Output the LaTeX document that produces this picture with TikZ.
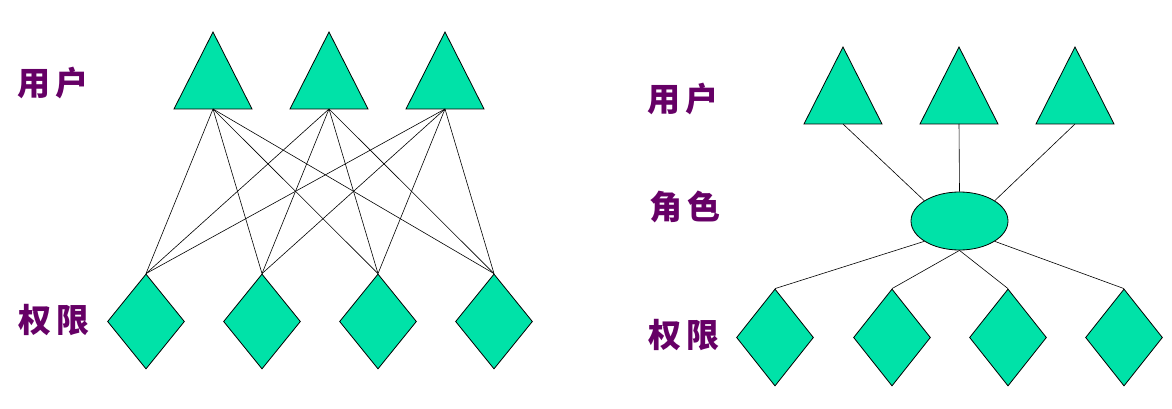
\documentclass[tikz,border=0pt]{standalone}
\usepackage{fontspec}
\newfontfamily\cjk{Noto Sans CJK SC}
\usetikzlibrary{shapes.geometric}
\definecolor{fillgreen}{RGB}{0,226,168}
\definecolor{labelpurple}{RGB}{102,0,102}
\tikzset{
  lbl/.style={font=\cjk\bfseries\fontsize{33}{33}\selectfont, text=labelpurple, inner sep=0pt, anchor=center},
  tri/.style={draw=black, fill=fillgreen, line width=0.8pt, line join=miter},
  dia/.style={diamond, draw=black, fill=fillgreen, line width=0.8pt, minimum width=77pt, minimum height=95pt, inner sep=0pt},
  ell/.style={ellipse, draw=black, fill=fillgreen, line width=0.8pt, minimum width=97pt, minimum height=58pt, inner sep=0pt},
  link/.style={draw=black, line width=0.6pt}
}
\begin{document}
\begin{tikzpicture}[x=1pt, y=-1pt]
\useasboundingbox (0,0) rectangle (1172,409);
% ---------- left diagram ----------
\node[lbl] (lu) at (53,83) {用\hspace{6pt}户};
\node[lbl] (lq) at (54,320) {权\hspace{6pt}限};
\foreach \i/\x in {1/213,2/329,3/445}{
  \draw[tri] (\x,32) -- (\x+39,109) -- (\x-39,109) -- cycle;
  \coordinate (lt\i) at (\x,109);
}
\foreach \j/\x in {1/146,2/262,3/378,4/494}{
  \node[dia] (ld\j) at (\x,321.5) {};
}
\foreach \i in {1,2,3}{
  \foreach \j in {1,2,3,4}{
    \draw[link] (lt\i) -- (ld\j.north);
  }
}
% ---------- right diagram ----------
\node[lbl] (ru) at (683,99) {用\hspace{6pt}户};
\node[lbl] (rj) at (685,207) {角\hspace{6pt}色};
\node[lbl] (rq) at (684,335) {权\hspace{6pt}限};
\foreach \i/\x in {1/843,2/959,3/1075}{
  \draw[tri] (\x,47) -- (\x+39,124) -- (\x-39,124) -- cycle;
  \coordinate (rt\i) at (\x,124);
}
\node[ell] (e) at (959.5,221) {};
\foreach \j/\x in {1/775,2/892,3/1008,4/1124}{
  \node[dia, minimum height=97pt] (rd\j) at (\x,337.5) {};
}
\draw[link] (rt1) -- (e.150);
\draw[link] (rt2) -- (e.north);
\draw[link] (rt3) -- (e.30);
\draw[link] (e.210) -- (rd1.north);
\draw[link] (e.south) -- (rd2.north);
\draw[link] (e.south) -- (rd3.north);
\draw[link] (e.330) -- (rd4.north);
\end{tikzpicture}
\end{document}
